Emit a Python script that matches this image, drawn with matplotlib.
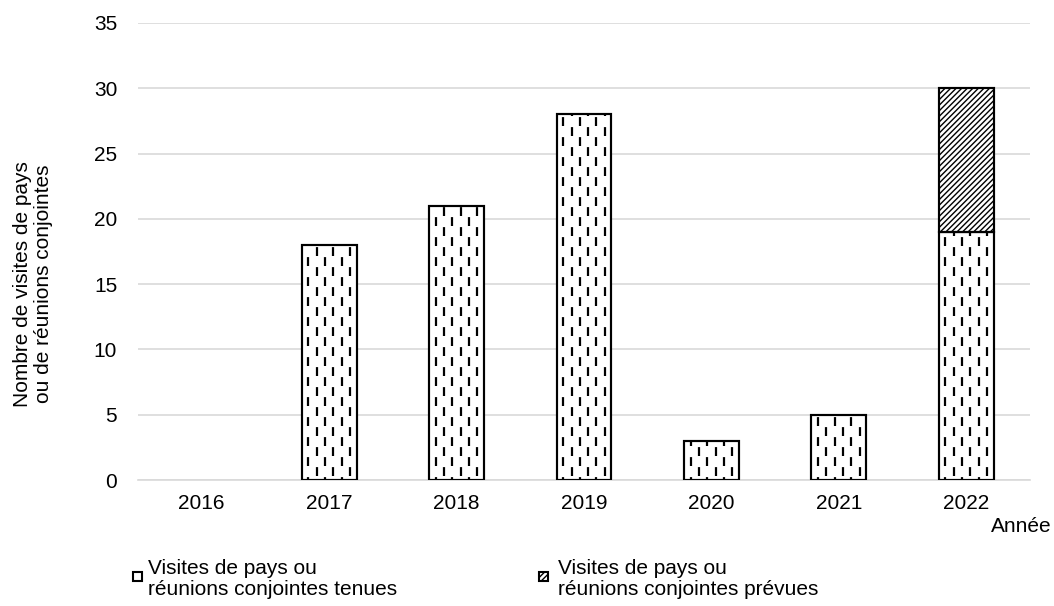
import numpy as np
import matplotlib.pyplot as plt
from matplotlib.patches import Rectangle

plt.rcParams['font.family'] = ['Liberation Sans', 'DejaVu Sans']
plt.rcParams['hatch.linewidth'] = 1.0

annees = ['2016', '2017', '2018', '2019', '2020', '2021', '2022']
tenues = [0, 18, 21, 28, 3, 5, 19]
prevues = [0, 0, 0, 0, 0, 0, 11]

lbl_tenues = 'Visites de pays ou\nréunions conjointes tenues'
lbl_prevues = 'Visites de pays ou\nréunions conjointes prévues'

FS = 15
W, H = 1054, 606
fig = plt.figure(figsize=(W / 100, H / 100), dpi=100)
ax = fig.add_axes([138 / W, 1 - 480 / H, 892 / W, 457 / H])

x = np.arange(len(annees))
w = 0.43

bords = ['black' if v > 0 else 'none' for v in tenues]
bars = ax.bar(x, tenues, w, color='white', edgecolor=bords, linewidth=1.5, zorder=2)
# motif de tirets verticaux dans les barres "tenues"
for b in bars:
    if b.get_height() <= 0:
        continue
    x0, bw, h = b.get_x(), b.get_width(), b.get_height()
    for k, fx in enumerate(np.linspace(0.12, 0.88, 6)):
        off = 0.0 if k % 2 == 0 else 0.8
        ln, = ax.plot([x0 + fx * bw] * 2, [-2 + off, h + 2], color='black',
                      lw=1.6, linestyle=(0, (4, 5)), zorder=3)
        ln.set_clip_path(b)
    ax.add_patch(Rectangle((x0, 0), bw, h, fill=False, edgecolor='black', lw=1.5, zorder=4))

bords2 = ['black' if v > 0 else 'none' for v in prevues]
top = ax.bar(x, prevues, w, bottom=tenues, color='white', edgecolor=bords2,
             hatch='//////', linewidth=1.5, zorder=2)
for b in top:
    if b.get_height() > 0:
        ax.add_patch(Rectangle((b.get_x(), b.get_y()), b.get_width(), b.get_height(),
                               fill=False, edgecolor='black', lw=1.5, zorder=4))

ax.set_xlim(-0.5, len(annees) - 0.5)
ax.set_ylim(0, 35)
ax.set_yticks(range(0, 36, 5))
ax.set_xticks(x)
ax.set_xticklabels(annees)
ax.tick_params(length=0, labelsize=FS, colors='black', pad=10)
ax.tick_params(axis='y', pad=15)
ax.grid(axis='y', color='#d9d9d9', linewidth=1.2, zorder=0)
ax.set_axisbelow(True)
for s in ['top', 'right', 'left']:
    ax.spines[s].set_visible(False)
ax.spines['bottom'].set_color('#d9d9d9')
ax.spines['bottom'].set_linewidth(1.2)

fig.text(33 / W, 1 - 284 / H, 'Nombre de visites de pays\nou de réunions conjointes',
         rotation=90, ha='center', va='center', fontsize=FS, linespacing=1.15)
fig.text(1052 / W, 1 - 527 / H, 'Année', ha='right', va='center', fontsize=FS)

# légende
for lx, tx, hatch, lbl in [(133, 148, None, lbl_tenues), (539, 558, '//////', lbl_prevues)]:
    fig.patches.append(Rectangle((lx / W, 1 - 581 / H), 9 / W, 9 / H,
                                 transform=fig.transFigure, facecolor='white',
                                 edgecolor='black', lw=1.5, hatch=hatch))
    fig.text(tx / W, 1 - 559 / H, lbl, ha='left', va='top', fontsize=FS, linespacing=1.15)

fig.savefig('out.png', dpi=100)
